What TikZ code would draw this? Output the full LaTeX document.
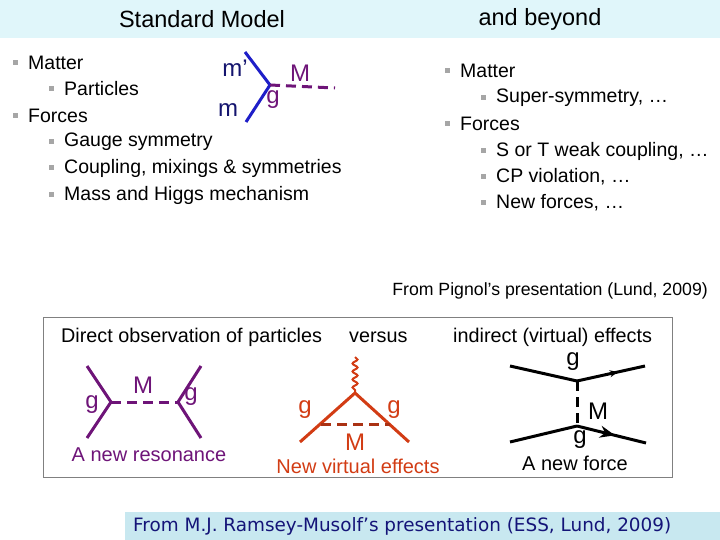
\documentclass[tikz,border=0pt]{standalone}
\usepackage{fontspec}
\setmainfont{Liberation Sans}
\newfontfamily\capfont{DejaVu Sans}
\usetikzlibrary{decorations.pathmorphing,decorations.markings,arrows.meta}
\definecolor{banner}{RGB}{224,246,250}
\definecolor{strip}{RGB}{200,232,240}
\definecolor{navy}{RGB}{20,20,110}
\definecolor{purp}{RGB}{110,20,120}
\definecolor{lblue}{RGB}{30,30,200}
\definecolor{org}{RGB}{210,60,20}
\definecolor{dorg}{RGB}{170,50,20}
\definecolor{capblue}{RGB}{20,20,120}
\begin{document}
\begin{tikzpicture}[x=1pt,y=-1pt,
  txt/.style={font=\fontsize{19.5}{21}\selectfont, anchor=west, inner sep=0},
  bul/.style={fill=gray!70, minimum size=5pt, inner sep=0},
  lab/.style={font=\fontsize{24}{25}\selectfont, inner sep=0},
  hd/.style={font=\fontsize{23.5}{25}\selectfont, inner sep=0},
  bt/.style={font=\fontsize{19.8}{21}\selectfont, anchor=west, inner sep=0},
  cp/.style={font=\fontsize{20}{21}\selectfont, inner sep=0},
  pl/.style={purp, line width=3pt},
  dl/.style={dashed, dash pattern=on 10pt off 6pt, line width=3pt}]
\useasboundingbox (0,0) rectangle (720,540);
\fill[banner] (0,0) rectangle (720,38);
\node[hd] (h1) at (202,19) {Standard Model};
\node[hd] (h2) at (540,19) {and beyond};
% left list
\foreach \x/\y/\t [count=\i] in {28/63/Matter,64/89/Particles,28/116/Forces,64/142/Gauge symmetry,64/168/{Coupling, mixings \& symmetries},64/195/Mass and Higgs mechanism}{
  \node[bul] (lb\i) at (\x-13,\y) {};
  \node[txt] (lt\i) at (\x,\y) {\t};}
\foreach \x/\y/\t [count=\i] in {460/71/Matter,496/98/{Super-symmetry, …},460/124/Forces,496/151/{S or T weak coupling, …},496/177/{CP violation, …},496/203/{New forces, …}}{
  \node[bul] (rb\i) at (\x-13,\y) {};
  \node[txt] (rt\i) at (\x,\y) {\t};}
% top vertex
\coordinate (ta) at (245,52); \coordinate (tv) at (270,85); \coordinate (tb) at (246,122);
\coordinate (te) at (335,88);
\draw[lblue, line width=3pt] (ta) -- (tv) -- (tb);
\draw[purp, dl] (tv) -- (te);
\node[lab, navy] (mp) at (235,68) {m’};
\node[lab, navy] (m) at (228,110) {m};
\node[lab, purp] (tg) at (273,100) {g};
\node[lab, purp] (tM) at (300,73) {M};
\node[font=\fontsize{17.7}{19}\selectfont, anchor=east, inner sep=0] (pig) at (708,291) {From Pignol’s presentation (Lund, 2009)};
% box
\draw[gray, line width=1pt] (43,317) rectangle (672,477);
\node[bt] (d1) at (61,337) {Direct observation of particles};
\node[bt] (d2) at (349,337) {versus};
\node[bt] (d3) at (453,337) {indirect (virtual) effects};
% purple
\coordinate (p1) at (87,366); \coordinate (pv) at (111,402); \coordinate (p2) at (87,438);
\coordinate (p3) at (201,366); \coordinate (pw) at (178,402); \coordinate (p4) at (201,438);
\draw[pl] (p1) -- (pv) -- (p2); \draw[pl] (p3) -- (pw) -- (p4);
\draw[purp, dl] (pv) -- (pw);
\node[lab, purp] (pg1) at (92,405) {g};
\node[lab, purp] (pM) at (143,385) {M};
\node[lab, purp] (pg2) at (191,397) {g};
\node[cp, purp] (pc) at (149,455) {A new resonance};
% orange
\coordinate (ot) at (355,357); \coordinate (ov) at (355,393);
\coordinate (ol) at (300,442); \coordinate (or) at (409,442);
\coordinate (odl) at (321,424); \coordinate (odr) at (390,424);
\draw[org, line width=2pt, decorate, decoration={snake, amplitude=2.5pt, segment length=8pt}] (ot) -- (ov);
\draw[org, line width=3pt] (ol) -- (ov) -- (or);
\draw[dorg, dl] (odl) -- (odr);
\node[lab, org] (og1) at (305,410) {g};
\node[lab, org] (og2) at (394,410) {g};
\node[lab, org] (oM) at (355,442) {M};
\node[cp, org] (oc) at (358,466) {New virtual effects};
% black
\coordinate (b1) at (510,366); \coordinate (bv) at (577,381); \coordinate (b2) at (645,366);
\coordinate (b3) at (510,442); \coordinate (bw) at (577,426); \coordinate (b4) at (646,443);
\draw[line width=3pt] (b1) -- (bv);
\draw[line width=3pt, postaction={decorate}, decoration={markings, mark=at position 0.6 with {\arrow{Stealth[length=8pt,width=7pt]}}}] (bv) -- (b2);
\draw[line width=3pt] (b3) -- (bw);
\draw[line width=3pt, postaction={decorate}, decoration={markings, mark=at position 0.55 with {\arrow{Stealth[length=15pt,width=12pt]}}}] (bw) -- (b4);
\draw[dl] (bv) -- (bw);
\node[lab] (bg1) at (573,362) {g};
\node[lab] (bM) at (598,411) {M};
\node[lab] (bg2) at (580,440) {g};
\node[cp] (bc) at (575,463) {A new force};
% strip
\fill[strip] (125,512) rectangle (720,540);
\node[font=\capfont\fontsize{18.4}{19}\selectfont, text=capblue, anchor=west, inner sep=0] (cap) at (133,526) {From M.J. Ramsey-Musolf’s presentation (ESS, Lund, 2009)};
\end{tikzpicture}
\end{document}
